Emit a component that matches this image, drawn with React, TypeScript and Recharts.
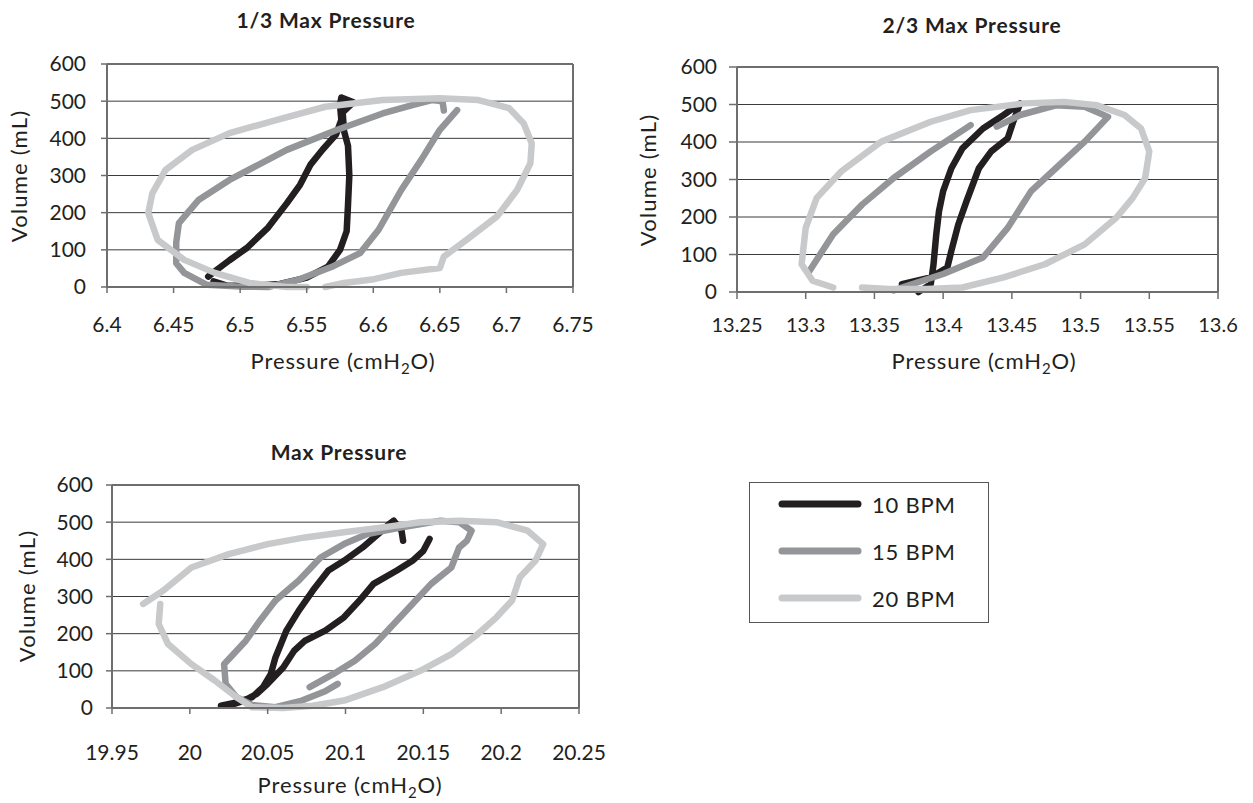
import React from "react"
import { LineChart, Line, XAxis, YAxis, CartesianGrid, ReferenceLine } from "recharts"

type Pt = [number, number] | null

const volumeTicks = [0, 100, 200, 300, 400, 500, 600]

// 1/3 max pressure
const lowTicks = [6.4, 6.45, 6.5, 6.55, 6.6, 6.65, 6.7, 6.75]
const low10: Pt[] = [
    [6.476, 28], [6.482, 45], [6.492, 72], [6.505, 105], [6.521, 160], [6.535, 225], [6.545, 275],
    [6.553, 330], [6.562, 370], [6.572, 410], [6.576, 450], [6.575, 490], [6.576, 510], [6.585, 497],
    [6.577, 470], [6.578, 420], [6.581, 380], [6.582, 300], [6.581, 220], [6.58, 150], [6.575, 100],
    [6.566, 55], [6.55, 25], [6.53, 8], [6.51, 3], [6.49, 4], [6.48, 15],
]
const low15: Pt[] = [
    [6.663, 476], [6.65, 423], [6.636, 342], [6.621, 261], [6.604, 154], [6.59, 91], [6.57, 56],
    [6.544, 20], [6.521, 0], [6.5, 1], [6.475, 6], [6.458, 38], [6.452, 64], [6.452, 120], [6.454, 172],
    [6.469, 235], [6.492, 288], [6.535, 369], [6.573, 423], [6.607, 467], [6.63, 490], [6.644, 503],
    [6.652, 500], [6.653, 475],
]
const low20: Pt[] = [
    [6.564, 0], [6.578, 11], [6.599, 20], [6.621, 38], [6.65, 51], [6.653, 82], [6.67, 127], [6.693, 190],
    [6.708, 261], [6.718, 333], [6.719, 387], [6.713, 440], [6.702, 481], [6.679, 503], [6.65, 508],
    [6.607, 503], [6.564, 485], [6.527, 449], [6.492, 414], [6.464, 369], [6.444, 315], [6.434, 252],
    [6.431, 199], [6.438, 127], [6.458, 73], [6.481, 38], [6.507, 11], [6.535, 0], [6.55, 0],
]

// 2/3 max pressure
const midTicks = [13.25, 13.3, 13.35, 13.4, 13.45, 13.5, 13.55, 13.6]
const mid10: Pt[] = [
    [13.382, 0], [13.391, 21], [13.393, 74], [13.395, 154], [13.397, 216], [13.4, 269], [13.406, 330],
    [13.414, 383], [13.429, 436], [13.444, 472], [13.456, 503], [13.451, 454], [13.447, 410],
    [13.435, 375], [13.426, 330], [13.417, 242], [13.411, 180], [13.406, 110], [13.403, 65],
    [13.391, 39], [13.37, 21],
]
const mid15: Pt[] = [
    [13.302, 52], [13.32, 154], [13.341, 233], [13.364, 304], [13.391, 375], [13.42, 445], null,
    [13.439, 441], [13.456, 472], [13.482, 498], [13.503, 494], [13.52, 467], [13.503, 401],
    [13.482, 330], [13.464, 269], [13.447, 171], [13.429, 92], [13.4, 48], [13.37, 12], [13.364, 4],
]
const mid20: Pt[] = [
    [13.341, 12], [13.36, 8], [13.388, 8], [13.414, 12], [13.444, 39], [13.474, 74], [13.503, 127],
    [13.526, 198], [13.538, 251], [13.547, 304], [13.55, 375], [13.544, 436], [13.532, 472],
    [13.512, 498], [13.488, 507], [13.459, 503], [13.42, 485], [13.391, 454], [13.355, 401],
    [13.326, 322], [13.308, 251], [13.3, 171], [13.297, 74], [13.305, 30], [13.32, 12],
]

// max pressure
const maxTicks = [19.95, 20, 20.05, 20.1, 20.15, 20.2, 20.25]
const max10: Pt[] = [
    [20.02, 6], [20.03, 15], [20.04, 29], [20.047, 56], [20.052, 91], [20.055, 136], [20.062, 208],
    [20.07, 262], [20.079, 316], [20.089, 370], [20.099, 396], [20.111, 432], [20.121, 468],
    [20.128, 495], [20.131, 504], [20.136, 477], [20.137, 450], null,
    [20.154, 455], [20.15, 423], [20.143, 396], [20.133, 370], [20.118, 334], [20.109, 289],
    [20.099, 244], [20.087, 208], [20.074, 181], [20.067, 154], [20.06, 109], [20.05, 65],
    [20.043, 38], [20.035, 20], [20.028, 10],
]
const max15: Pt[] = [
    [20.095, 65], [20.087, 45], [20.072, 20], [20.055, 2], [20.04, 8], [20.03, 29], [20.023, 65],
    [20.022, 118], [20.026, 136], [20.036, 181], [20.045, 235], [20.055, 289], [20.07, 343],
    [20.084, 405], [20.099, 441], [20.114, 468], [20.136, 486], [20.161, 504], [20.173, 500],
    [20.181, 477], [20.178, 450], [20.173, 432], [20.168, 378], [20.155, 334], [20.143, 280],
    [20.131, 226], [20.119, 172], [20.106, 127], [20.092, 91], [20.077, 56],
]
const max20: Pt[] = [
    [19.981, 280], [19.98, 226], [19.986, 172], [20.001, 118], [20.016, 74], [20.03, 29], [20.04, 2],
    [20.06, 0], [20.079, 6], [20.099, 20], [20.124, 56], [20.148, 100], [20.168, 145], [20.185, 199],
    [20.197, 244], [20.207, 289], [20.212, 352], [20.222, 396], [20.227, 441], [20.217, 477],
    [20.197, 500], [20.173, 504], [20.148, 500], [20.124, 486], [20.099, 473], [20.074, 459],
    [20.05, 441], [20.025, 414], [20.001, 378], [19.983, 316], [19.97, 280],
]

const seriesNames = ["10 BPM", "15 BPM", "20 BPM"]
const COLORS = ["#231f20", "#939598", "#c8c9cb"]
const FONT = "Lato, 'Open Sans', sans-serif"
const AXIS = "#6e6e6e"
const TEXT = "#231f20"

// turn tuples into chart rows; a null becomes a row with no volume so the line breaks
const toRows = (pts: Pt[]) => {
    let lastP = 0
    return pts.map((pt) => {
        if (!pt) return { p: lastP, v: null }
        lastP = pt[0]
        return { p: pt[0], v: pt[1] }
    })
}

interface PanelProps {
    left: number
    top: number
    width: number
    height: number
    plotLeft: number
    plotRight: number
    plotTop: number
    plotBottom: number
    xTicks: number[]
    xTickFont: number
    xTickSize: number
    xTickMargin: number
    yTickSize: number
    yTickMargin: number
    series: Pt[][]
}

function Panel(props: PanelProps) {
    const { left, top, width, height, plotLeft, plotRight, plotTop, plotBottom, xTicks, series } = props
    const xMin = xTicks[0]
    const xMax = xTicks[xTicks.length - 1]
    return (
        <div style={{ position: "absolute", left, top }}>
            <LineChart
                width={width}
                height={height}
                margin={{ top: plotTop - top, right: left + width - plotRight, left: 0, bottom: 0 }}
            >
                <CartesianGrid horizontal vertical={false} stroke="#3a3a3a" strokeWidth={1} />
                <XAxis
                    type="number"
                    dataKey="p"
                    domain={[xMin, xMax]}
                    ticks={xTicks}
                    allowDataOverflow
                    interval={0}
                    height={top + height - plotBottom}
                    axisLine={{ stroke: AXIS, strokeWidth: 2 }}
                    tickLine={{ stroke: AXIS, strokeWidth: 1.5 }}
                    tickSize={props.xTickSize}
                    tickMargin={props.xTickMargin}
                    tick={{ fontSize: props.xTickFont, fill: TEXT, fontFamily: FONT }}
                />
                <YAxis
                    type="number"
                    dataKey="v"
                    domain={[0, 600]}
                    ticks={volumeTicks}
                    interval={0}
                    width={plotLeft - left}
                    axisLine={{ stroke: AXIS, strokeWidth: 2 }}
                    tickLine={{ stroke: AXIS, strokeWidth: 1.5 }}
                    tickSize={props.yTickSize}
                    tickMargin={props.yTickMargin}
                    tick={{ fontSize: 21, fill: TEXT, fontFamily: FONT }}
                />
                <ReferenceLine y={600} stroke={AXIS} strokeWidth={2} />
                <ReferenceLine x={xMax} stroke={AXIS} strokeWidth={2} />
                {series.map((pts, i) => (
                    <Line
                        key={seriesNames[i]}
                        name={seriesNames[i]}
                        data={toRows(pts)}
                        dataKey="v"
                        type="linear"
                        stroke={COLORS[i]}
                        strokeWidth={6.5}
                        strokeLinecap="round"
                        strokeLinejoin="round"
                        dot={false}
                        activeDot={false}
                        connectNulls={false}
                        isAnimationActive={false}
                    />
                ))}
            </LineChart>
        </div>
    )
}

const centered = (x: number, y: number, extra: React.CSSProperties = {}): React.CSSProperties => ({
    position: "absolute",
    left: x,
    top: y,
    transform: "translate(-50%, -50%)",
    whiteSpace: "nowrap",
    color: TEXT,
    ...extra,
})

const Title = ({ x, y, text }: { x: number; y: number; text: string }) => (
    <div style={centered(x, y, { fontSize: 21, fontWeight: 700, letterSpacing: 0.8 })}>{text}</div>
)

const XLabel = ({ x, y }: { x: number; y: number }) => (
    <div style={centered(x, y, { fontSize: 22, letterSpacing: 0.9 })}>
        Pressure (cmH<sub style={{ fontSize: 15, verticalAlign: "-0.3em" }}>2</sub>O)
    </div>
)

const YLabel = ({ x, y }: { x: number; y: number }) => (
    <div
        style={centered(x, y, {
            fontSize: 22,
            letterSpacing: 1.2,
            transform: "translate(-50%, -50%) rotate(-90deg)",
        })}
    >
        Volume (mL)
    </div>
)

export default function App() {
    return (
        <div
            style={{
                position: "absolute",
                left: 0,
                top: 0,
                width: 1253,
                height: 803,
                background: "#fff",
                fontFamily: FONT,
                overflow: "hidden",
            }}
        >
            <Title x={326} y={19} text="1/3 Max Pressure" />
            <YLabel x={18} y={176} />
            <XLabel x={343} y={362} />
            <Panel
                left={0} top={0} width={610} height={385}
                plotLeft={107} plotRight={573} plotTop={64} plotBottom={287}
                xTicks={lowTicks} xTickFont={21} xTickSize={6} xTickMargin={24}
                yTickSize={6} yTickMargin={15}
                series={[low10, low15, low20]}
            />

            <Title x={972} y={24} text="2/3 Max Pressure" />
            <YLabel x={647} y={180} />
            <XLabel x={984} y={362} />
            <Panel
                left={620} top={0} width={633} height={385}
                plotLeft={737} plotRight={1218} plotTop={67} plotBottom={292}
                xTicks={midTicks} xTickFont={20} xTickSize={7} xTickMargin={19}
                yTickSize={8} yTickMargin={12}
                series={[mid10, mid15, mid20]}
            />

            <Title x={339} y={451} text="Max Pressure" />
            <YLabel x={26} y={596} />
            <XLabel x={350} y={786} />
            <Panel
                left={0} top={420} width={620} height={383}
                plotLeft={112} plotRight={579} plotTop={485} plotBottom={708}
                xTicks={maxTicks} xTickFont={21} xTickSize={6} xTickMargin={31}
                yTickSize={6} yTickMargin={13}
                series={[max10, max15, max20]}
            />

            {/* legend box */}
            <div
                style={{
                    position: "absolute",
                    left: 749,
                    top: 482,
                    width: 240,
                    height: 141,
                    boxSizing: "border-box",
                    border: "1.5px solid #555",
                }}
            >
                {seriesNames.map((name, i) => (
                    <div
                        key={name}
                        style={{ position: "absolute", left: 0, top: 21 + i * 47 - 12, height: 24, display: "flex", alignItems: "center" }}
                    >
                        <svg width={112} height={24} style={{ display: "block" }}>
                            <line x1={32} y1={12} x2={108} y2={12} stroke={COLORS[i]} strokeWidth={7} strokeLinecap="round" />
                        </svg>
                        <span style={{ fontSize: 22, letterSpacing: 0.8, color: TEXT, marginLeft: 10 }}>{name}</span>
                    </div>
                ))}
            </div>
        </div>
    )
}
